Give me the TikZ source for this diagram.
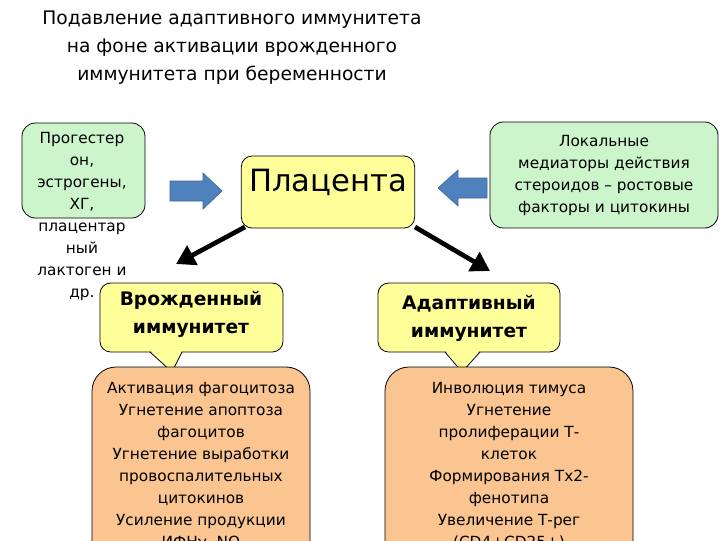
\documentclass[tikz,border=0pt]{standalone}
\usepackage{fontspec}
\setmainfont{DejaVu Sans}
\usetikzlibrary{arrows.meta}
\definecolor{gfill}{HTML}{CCF5CC}
\definecolor{yfill}{HTML}{FFFF99}
\definecolor{ofill}{HTML}{FAC590}
\definecolor{bluea}{HTML}{4F81BD}
\tikzset{
 gbox/.style={draw=black,fill=gfill,rounded corners=10pt,line width=0.6pt},
 ybox/.style={draw=black,fill=yfill,rounded corners=8pt,line width=0.6pt},
 obox/.style={draw=black,fill=ofill,rounded corners=18pt,line width=0.6pt},
 txt/.style={align=center,font=\fontsize{11.5}{16.5}\selectfont},
 barrow/.style={fill=bluea,draw=bluea!80!black,line width=0.5pt},
 karrow/.style={-{Triangle[length=14pt,width=16pt]},line width=3.5pt}
}
\begin{document}
\begin{tikzpicture}[x=0.75pt,y=-0.75pt]
\path[use as bounding box,clip] (0,0) rectangle (720,540);
\fill[white] (0,0) rectangle (720,540);
\node[txt,font=\fontsize{14}{21}\selectfont] (title) at (232,48) {Подавление адаптивного иммунитета\\на фоне активации врожденного\\иммунитета при беременности};
\draw[gbox] (22,123) rectangle (145,218);
\node[txt,anchor=north] (horm) at (82,128) {Прогестер\\он,\\эстрогены,\\ХГ,\\плацентар\\ный\\лактоген и\\др.};
\node[ybox,minimum width=130pt,minimum height=54pt] (plac) at (328,192) {};
\node[font=\fontsize{23}{26}\selectfont] (plact) at (328,182) {Плацента};
\draw[gbox] (490,122) rectangle (718,228);
\node[txt] (med) at (604,175) {Локальные\\медиаторы действия\\стероидов – ростовые\\факторы и цитокины};
\draw[barrow] (170,181) -- (203,181) -- (203,173) -- (222,191) -- (203,209) -- (203,201) -- (170,201) -- cycle;
\draw[barrow] (487,178) -- (458,178) -- (458,170) -- (438,188) -- (458,206) -- (458,198) -- (487,198) -- cycle;
\draw[karrow] (245,227) -- (176,264);
\draw[karrow] (415,227) -- (490,271);
\coordinate (t1) at (172,372);
\coordinate (t2) at (462,372);
\draw[ybox] (100,283) rectangle (283,352);
\draw[ybox] (378,283) rectangle (560,352);
\fill[yfill] (150,350) -- (t1) -- (182,350) -- cycle;
\draw[line width=0.6pt] (150,352) -- (t1) -- (182,352);
\fill[yfill] (445,350) -- (t2) -- (480,350) -- cycle;
\draw[line width=0.6pt] (445,352) -- (t2) -- (480,352);
\node[txt,font=\bfseries\fontsize{14}{21}\selectfont] (inn) at (191,314) {Врожденный\\иммунитет};
\node[txt,font=\bfseries\fontsize{14}{21}\selectfont] (ada) at (469,318) {Адаптивный\\иммунитет};
\draw[obox] (92,367) rectangle (310,570);
\draw[obox] (385,367) rectangle (633,570);
\node[txt,anchor=north] (l1) at (201,378) {Активация фагоцитоза\\Угнетение апоптоза\\фагоцитов\\Угнетение выработки\\провоспалительных\\цитокинов\\Усиление продукции\\ИФНγ, NO};
\node[txt,anchor=north] (r1) at (509,378) {Инволюция тимуса\\Угнетение\\пролиферации Т-\\клеток\\Формирования Тх2-\\фенотипа\\Увеличение Т-рег\\(CD4+CD25+)};
\end{tikzpicture}
\end{document}
